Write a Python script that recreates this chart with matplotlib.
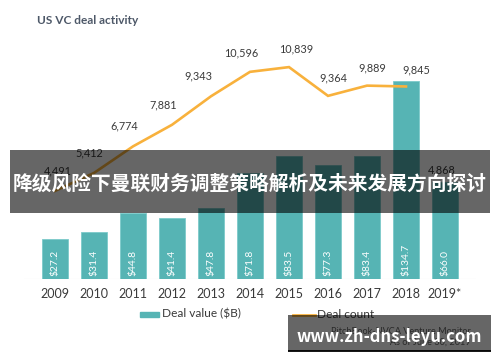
import matplotlib
matplotlib.use("Agg")
import matplotlib.pyplot as plt
from matplotlib.patches import Rectangle
from matplotlib.lines import Line2D

plt.rcParams['font.family'] = ['Lato', 'DejaVu Sans']

years = ["2009", "2010", "2011", "2012", "2013", "2014", "2015", "2016", "2017", "2018", "2019*"]
deal_value = [27.2, 31.4, 44.8, 41.4, 47.8, 71.8, 83.5, 77.3, 83.4, 134.7, 66.0]
deal_count = [4491, 5412, 6774, 7881, 9343, 10596, 10839, 9364, 9889, 9845, 4868]
line_years = 10  # line drawn for 2009-2018 only

# label x offsets (pixels) for count labels
count_dx = [3, -5, -9, -9, -13, -9, 7, 5, 5, 10, -3]
count_dy = [20, 20, 20, 20, 20, 19, 18, 18, 18, 17, 14]

BAR = "#56b4b4"
LINE = "#f8b13c"
TXT = "#3a3a3a"

W, H = 500, 362
fig = plt.figure(figsize=(5, 3.62), dpi=100)
ax = fig.add_axes([24 / W, 1 - 278.5 / H, 452 / W, 239 / H])
ax2 = ax.twinx()

x = list(range(len(years)))
ax.bar(x, deal_value, width=0.67, color=BAR, edgecolor="#7ccaca", linewidth=0.6, zorder=2)
ax.set_xlim(-0.795, 10.795)
ax.set_ylim(0, 163.0)
ax.axhline(0, color="#dddddd", lw=0.8, zorder=1)

for xi, v in zip(x, deal_value):
    ax.annotate(f"${v:.1f}", (xi, 0), xytext=(0, 3), textcoords="offset pixels",
                rotation=90, ha="center", va="bottom", color="white", fontsize=7.4, zorder=3)

ax2.plot(x[:line_years], deal_count[:line_years], color=LINE, lw=1.9, zorder=4,
         solid_joinstyle="miter")
ax2.set_ylim(0, 12254)
ax2.set_xlim(-0.795, 10.795)
for xi, c, dx, dy in zip(x, deal_count, count_dx, count_dy):
    ax2.annotate(f"{c:,}", (xi, c), xytext=(dx, dy), textcoords="offset pixels",
                 ha="center", va="center", color=TXT, fontsize=7.8)

for a in (ax, ax2):
    for s in a.spines.values():
        s.set_visible(False)
    a.set_yticks([])
ax.set_xticks(x)
ax.set_xticklabels(years, fontsize=9, color=TXT)
ax.tick_params(axis="x", length=0, pad=7)
ax2.tick_params(axis="x", length=0)

# title
fig.text(37 / W, 1 - 20 / H, "US VC deal activity", fontsize=8.6, fontweight="bold",
         color="#4d5868", ha="left", va="center")

# legend
fig.add_artist(Rectangle((140 / W, 1 - 316.5 / H), 19 / W, 5 / H, transform=fig.transFigure,
                         color=BAR))
fig.text(162 / W, 1 - 313.5 / H, "Deal value ($B)", fontsize=8.6, color=TXT, ha="left", va="center")
fig.add_artist(Line2D([293 / W, 315 / W], [1 - 315 / H, 1 - 315 / H], transform=fig.transFigure,
                      color=LINE, lw=2))
fig.text(317 / W, 1 - 314 / H, "Deal count", fontsize=8.6, color=TXT, ha="left", va="center")

# source
fig.text(471 / W, 1 - 331 / H, "PitchBook-NVCA Venture Monitor", fontsize=6.6, color="#666666",
         ha="right", va="center")
fig.text(471 / W, 1 - 342 / H, "*As of June 30, 2019", fontsize=6.6, color="#666666",
         ha="right", va="center")

# overlay band
fig.add_artist(Rectangle((10 / W, 1 - 213 / H), 480 / W, 63 / H, transform=fig.transFigure,
                         color="black", alpha=0.6, lw=0, zorder=10))
fig.text(250 / W, 1 - 184 / H, "降级风险下曼联财务调整策略解析及未来发展方向探讨", fontsize=14.2,
         fontweight="bold", color="white", ha="center", va="center", zorder=11,
         family=["Noto Sans CJK SC", "DejaVu Sans"])

# watermark box
fig.add_artist(Rectangle((288 / W, 1 - 351 / H), 203 / W, 36 / H, transform=fig.transFigure,
                         color="black", alpha=0.6, lw=0, zorder=10))
fig.add_artist(Rectangle((288 / W, 1 - 352 / H), 203 / W, 2 / H, transform=fig.transFigure,
                         color="black", alpha=0.9, lw=0, zorder=10))
fig.text(389 / W, 1 - 337 / H, "www.zh-dns-leyu.com", fontsize=12, fontweight="bold",
         color="white", ha="center", va="center", zorder=11,
         family=["Noto Sans CJK SC", "DejaVu Sans"])

fig.savefig("out.png", dpi=100)
